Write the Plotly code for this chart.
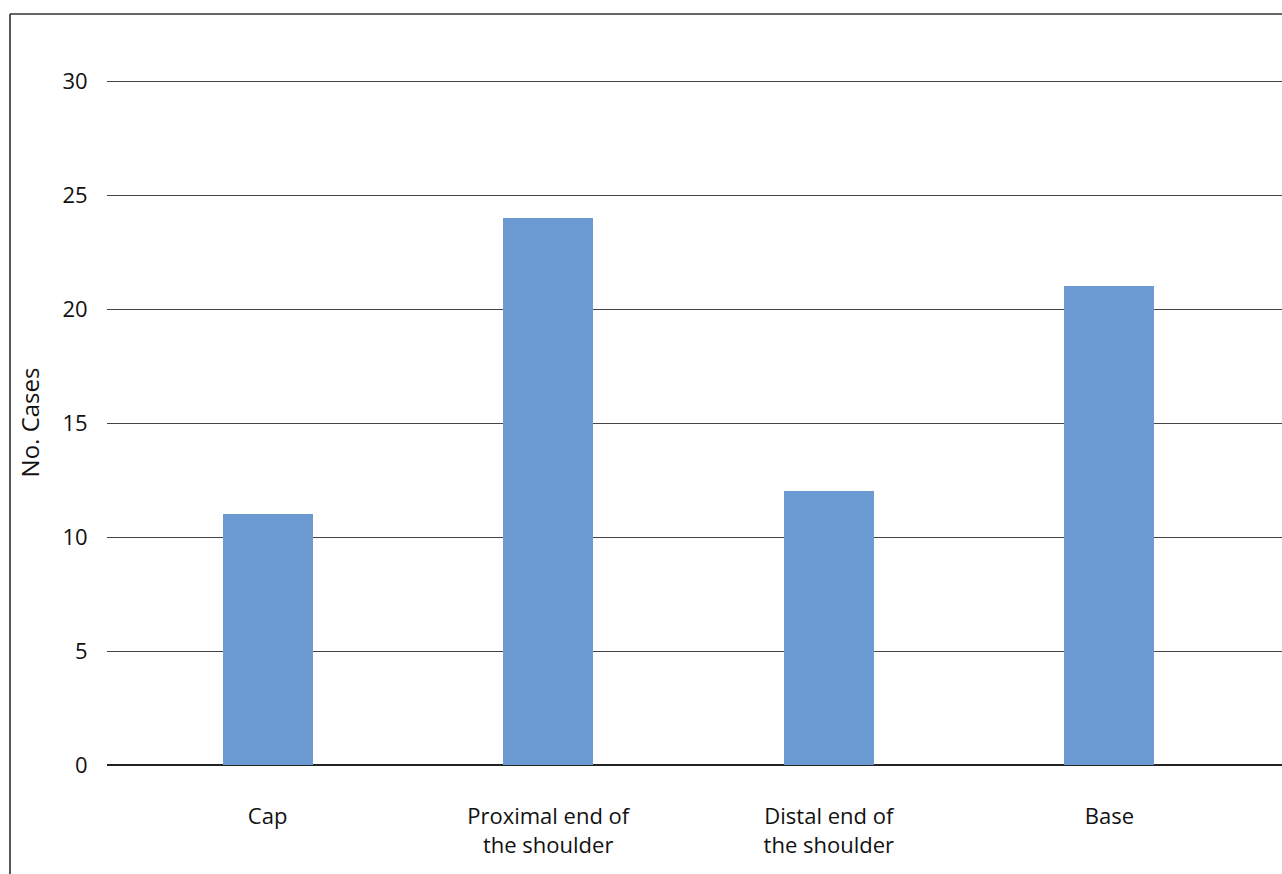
import plotly.graph_objects as go

categories = ["Cap", "Proximal end of<br>the shoulder", "Distal end of<br>the shoulder", "Base"]
cases = [11, 24, 12, 21]
y_ticks = [0, 5, 10, 15, 20, 25, 30]

W, H = 1282, 874
L, R = 107, 1282
T, B = 80, 765
pw, ph = R - L, B - T

fig = go.Figure()
fig.add_trace(go.Bar(
    x=list(range(len(categories))), y=cases,
    marker=dict(color="#6b9bd2", line=dict(width=0)),
    width=0.3207,
))

font = dict(family="Open Sans, sans-serif", size=22, color="#111111")

fig.update_layout(
    width=W, height=H,
    margin=dict(l=L, r=W - R, t=T, b=H - B, pad=0),
    paper_bgcolor="white", plot_bgcolor="white",
    showlegend=False, bargap=0,
    font=font,
    xaxis=dict(
        range=[-0.5723, 3.615],
        tickmode="array", tickvals=list(range(len(categories))), ticktext=categories,
        showgrid=False, zeroline=False, showline=False,
        ticks="outside", ticklen=32, tickcolor="rgba(0,0,0,0)",
        tickfont=font,
    ),
    yaxis=dict(
        range=[0, 30.05], tickmode="array", tickvals=y_ticks,
        showgrid=True, gridcolor="#444444", gridwidth=1,
        zeroline=True, zerolinecolor="#222222", zerolinewidth=1.5,
        showline=False,
        ticks="outside", ticklen=14, tickcolor="rgba(0,0,0,0)",
        tickfont=font,
        title=dict(text="No. Cases", font=dict(family="Open Sans, sans-serif", size=24, color="#111111"), standoff=16),
    ),
)

# outer frame lines (top and left)
x_left = (10 - L) / pw
y_top = (B - 14) / ph
y_bot = (B - H) / ph
fig.add_shape(type="line", xref="paper", yref="paper", x0=x_left, x1=(W - L) / pw,
              y0=y_top, y1=y_top, line=dict(color="#666666", width=2))
fig.add_shape(type="line", xref="paper", yref="paper", x0=x_left, x1=x_left,
              y0=y_top, y1=y_bot, line=dict(color="#222222", width=1.5))

fig.write_html("out.html")
